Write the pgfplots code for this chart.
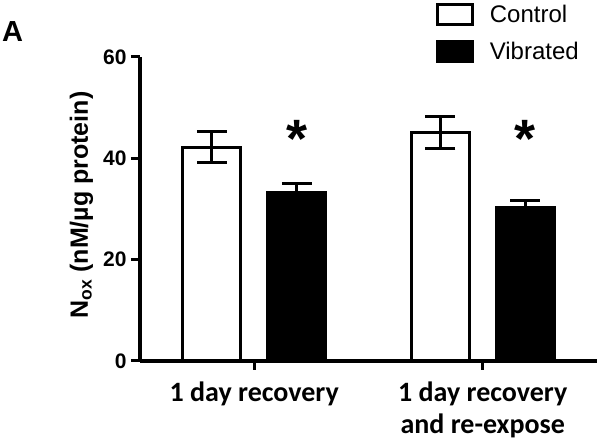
\documentclass[border=0pt]{standalone}
\usepackage{pgfplots}
\pgfplotsset{compat=1.18}
\usepackage{fontspec}
\setmainfont{Liberation Sans}
\newfontfamily\calib{Carlito}
\begin{document}
\begin{tikzpicture}[x=1pt,y=1pt]
\useasboundingbox (0,0) rectangle (600,443);
\node[anchor=north west, inner sep=0pt, font=\bfseries\fontsize{29}{29}\selectfont] at (2,422) {A};
\begin{axis}[
  at={(140pt,82pt)}, anchor=south west,
  scale only axis, width=457pt, height=304pt,
  xmin=-0.5, xmax=1.5, ymin=0, ymax=60,
  axis lines*=left,
  axis line style={line width=3.5pt},
  xtick={0,1},
  xticklabels={1 day recovery, {1 day recovery\\and re-expose}},
  ytick={0,20,40,60},
  tick align=outside, major tick length=9pt,
  tick style={line width=3pt, black},
  /pgf/number format/assume math mode=true,
  yticklabel style={font=\bfseries\fontsize{21}{21}\selectfont, xshift=-1pt},
  xticklabel style={font=\calib\bfseries\fontsize{28}{32}\selectfont, align=center, yshift=-8pt},
  ylabel={\textbf{N\textsubscript{ox} (nM/µg protein)}},
  ylabel style={at={(axis description cs:-0.128,0.513)}, anchor=center, font=\fontsize{25}{25}\selectfont},
  clip=false,
  legend style={at={(0.648,1.178)}, anchor=north west, draw=none, fill=none,
    font=\fontsize{24}{28}\selectfont, row sep=14pt, inner sep=0pt,
    /tikz/every odd column/.append style={column sep=14pt}},
  legend cell align=left,
  legend image code/.code={\draw[#1, line width=2.5pt] (0pt,-10pt) rectangle (35pt,10pt);},
]
\addplot[ybar, bar width=58pt, bar shift=0pt, fill=white, draw=black, line width=3pt,
  error bars/.cd, y dir=both, y explicit,
  error bar style={line width=3pt, black},
  error mark options={rotate=90, mark size=15pt, line width=3pt, black}]
  coordinates {(-0.186,42.2) +- (0,3.0) (0.814,45.1) +- (0,3.2)};
\addlegendentry{Control}
\addplot[ybar, bar width=58pt, bar shift=0pt, fill=black, draw=black, line width=3pt,
  error bars/.cd, y dir=both, y explicit,
  error bar style={line width=3pt, black},
  error mark options={rotate=90, mark size=15pt, line width=3pt, black}]
  coordinates {(0.187,33.2) +- (0,1.9) (1.187,30.2) +- (0,1.5)};
\addlegendentry{Vibrated}
\addplot[draw=none, mark=none, forget plot,
  nodes near coords={\bfseries *},
  every node near coord/.append style={font=\fontsize{54}{54}\selectfont, anchor=center, inner sep=0pt}]
  coordinates {(0.187,43.8) (1.187,43.8)};
\end{axis}
\end{tikzpicture}
\end{document}
